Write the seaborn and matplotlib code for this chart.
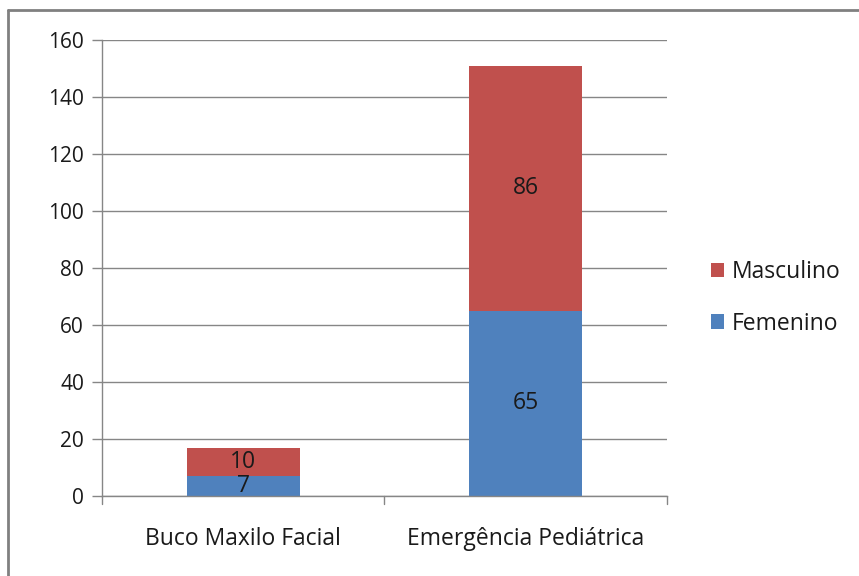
import matplotlib
matplotlib.use("Agg")
import matplotlib.pyplot as plt
import seaborn as sns
import pandas as pd
from matplotlib.patches import Patch
from matplotlib.lines import Line2D

categories = ["Buco Maxilo Facial", "Emergência Pediátrica"]
femenino = [7, 65]
masculino = [10, 86]
y_ticks = [0, 20, 40, 60, 80, 100, 120, 140, 160]

blue = "#4F81BD"
red = "#C0504D"
grid_gray = "#868686"
text_color = "#1a1a1a"

sns.set_theme(style="white")
plt.rcParams["font.family"] = ["Open Sans", "DejaVu Sans"]

df = pd.DataFrame({"cat": categories, "fem": femenino, "masc": masculino})

fig = plt.figure(figsize=(8.59, 5.76), dpi=100)
ax = fig.add_axes([102 / 859, 1 - 496 / 576, (667 - 102) / 859, (496 - 40) / 576])

sns.barplot(data=df, x="cat", y="fem", color=blue, width=0.4, ax=ax,
            saturation=1, linewidth=0)
sns.barplot(data=df, x="cat", y="masc", color=red, width=0.4, ax=ax,
            saturation=1, linewidth=0, bottom=df["fem"].values)

ax.set_xlim(-0.5, 1.5)
ax.set_ylim(0, 160)
ax.set_yticks(y_ticks)
ax.set_xlabel("")
ax.set_ylabel("")
ax.grid(axis="y", color=grid_gray, linewidth=1)
ax.set_axisbelow(True)
for s in ["top", "right"]:
    ax.spines[s].set_visible(False)
for s in ["left", "bottom"]:
    ax.spines[s].set_color(grid_gray)
    ax.spines[s].set_linewidth(1)

fs_y = 15
fs = 16.5
ax.tick_params(axis="y", length=7, width=1, color=grid_gray, labelsize=fs_y,
               labelcolor=text_color, pad=6, left=True)
ax.tick_params(axis="x", length=0, labelsize=fs, labelcolor=text_color, pad=22)
# category separator ticks on the x axis
for xb in [-0.5, 0.5, 1.5]:
    ax.add_line(Line2D([xb, xb], [0, -0.017], transform=ax.get_xaxis_transform(),
                       color=grid_gray, linewidth=1, clip_on=False))

# value labels centred in each segment
for i, (f, m) in enumerate(zip(femenino, masculino)):
    ax.text(i, f / 2, str(f), ha="center", va="center", fontsize=fs, color=text_color)
    ax.text(i, f + m / 2, str(m), ha="center", va="center", fontsize=fs, color=text_color)

handles = [Patch(facecolor=red, edgecolor="none", label="Masculino"),
           Patch(facecolor=blue, edgecolor="none", label="Femenino")]
fig.legend(handles=handles, loc="center left", bbox_to_anchor=(690 / 859, 1 - 298 / 576),
           frameon=False, fontsize=16.5, handlelength=0.6, handleheight=0.6,
           handletextpad=0.3, labelspacing=1.2, labelcolor=text_color)

# outer chart frame (left and top edges)
fig.add_artist(Line2D([8 / 859, 8 / 859], [0, 1 - 10 / 576], transform=fig.transFigure,
                      color="#808080", linewidth=2))
fig.add_artist(Line2D([8 / 859, 1], [1 - 10 / 576, 1 - 10 / 576], transform=fig.transFigure,
                      color="#808080", linewidth=2))

fig.savefig("out.png", dpi=100, facecolor="white")
